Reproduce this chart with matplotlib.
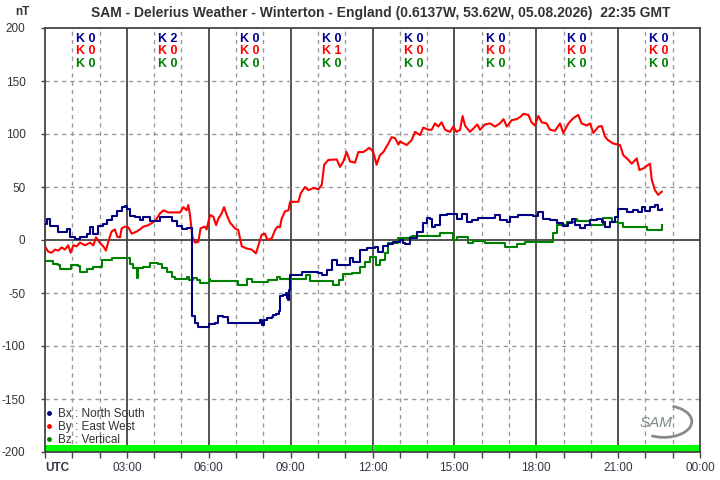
import matplotlib
matplotlib.use("Agg")
import matplotlib.pyplot as plt
from matplotlib.lines import Line2D
from matplotlib.patches import Arc

plt.rcParams['font.family'] = ['Liberation Sans', 'DejaVu Sans']

# ---------------- data ----------------
bx_hours = [0.00, 0.06, 0.18, 0.37, 0.49, 0.73, 0.79, 0.92, 1.10, 1.28, 1.53, 1.65, 1.77, 1.95, 2.14,
            2.26, 2.44, 2.63, 2.81, 2.93, 3.02, 3.11, 3.30, 3.48, 3.60, 3.85, 4.03, 4.21, 4.46, 4.64,
            4.82, 5.01, 5.19, 5.37, 5.40, 5.50, 5.62, 5.92, 6.02, 6.23, 6.35, 6.53, 6.72, 7.88, 7.94,
            8.02, 8.12, 8.31, 8.37, 8.46, 8.59, 8.61, 8.73, 8.83, 8.86, 8.92, 8.95, 8.98, 9.16, 9.40,
            9.89, 10.01, 10.14, 10.32, 10.50, 10.69, 11.05, 11.18, 11.30, 11.54, 11.79, 12.09, 12.21,
            12.40, 12.58, 12.76, 13.01, 13.13, 13.19, 13.37, 13.62, 13.86, 13.99, 14.11, 14.17, 14.29,
            14.47, 14.72, 14.96, 15.08, 15.27, 15.45, 15.63, 15.88, 16.18, 16.49, 16.67, 16.92, 17.04,
            17.34, 17.65, 17.89, 18.08, 18.26, 18.50, 18.75, 18.99, 19.18, 19.30, 19.42, 19.60, 19.79,
            19.97, 20.21, 20.40, 20.52, 20.70, 20.89, 21.01, 21.19, 21.31, 21.56, 21.74, 21.86, 21.99,
            22.17, 22.35, 22.47, 22.60]
bx_values = [15, 20, 13, 13, 8, 8, 10, 3, 1, 3, 6, 12, 6, 13, 15,
             19, 23, 27, 31, 32, 29, 23, 22, 19, 22, 18, 18, 22, 22, 18,
             13, 10, 11, 10, -72, -78, -82, -82, -79, -78, -72, -73, -78, -75, -80,
             -75, -74, -73, -71, -70, -67, -53, -52, -50, -55, -57, -47, -33, -33, -30,
             -30, -31, -33, -28, -19, -24, -24, -17, -21, -9, -8, -7, -11,
             -6, -4, -2, 0, -3, -4, 2, 8, 16, 21, 20, 12, 14,
             24, 25, 25, 20, 25, 17, 19, 21, 21, 24, 19, 17, 22,
             24, 24, 23, 26, 20, 19, 16, 13, 16, 20, 14, 11, 14,
             19, 20, 17, 12, 17, 22, 29, 29, 26, 28, 26, 31, 27,
             31, 33, 28, 29]

by_hours = [0.00, 0.12, 0.24, 0.37, 0.49, 0.61, 0.73, 0.85, 0.94, 1.04, 1.16, 1.28, 1.47, 1.65, 1.77,
            1.87, 2.02, 2.14, 2.23, 2.32, 2.44, 2.56, 2.65, 2.75, 2.81, 2.93, 3.05, 3.18, 3.36, 3.48,
            3.60, 3.79, 3.97, 4.09, 4.21, 4.34, 4.52, 4.95, 5.07, 5.19, 5.25, 5.31, 5.40, 5.50, 5.62,
            5.70, 5.86, 5.92, 6.05, 6.17, 6.27, 6.35, 6.47, 6.56, 6.66, 6.78, 6.96, 7.08, 7.21, 7.39,
            7.57, 7.73, 7.82, 7.94, 8.06, 8.15, 8.31, 8.43, 8.52, 8.61, 8.67, 8.79, 8.92, 8.98, 9.28,
            9.37, 9.53, 9.65, 9.83, 10.02, 10.14, 10.23, 10.38, 10.69, 10.81, 10.93, 11.05, 11.18, 11.36,
            11.48, 11.67, 11.89, 12.03, 12.15, 12.27, 12.40, 12.58, 12.70, 12.83, 12.95, 13.01, 13.25,
            13.43, 13.56, 13.74, 13.86, 14.05, 14.17, 14.29, 14.41, 14.53, 14.66, 14.84, 14.96, 15.08,
            15.21, 15.30, 15.39, 15.57, 15.69, 15.84, 15.94, 16.12, 16.31, 16.49, 16.67, 16.80, 16.92,
            17.10, 17.28, 17.41, 17.53, 17.71, 17.83, 17.95, 18.08, 18.20, 18.38, 18.50, 18.69, 18.87,
            18.99, 19.18, 19.36, 19.54, 19.66, 19.85, 19.97, 20.09, 20.28, 20.40, 20.52, 20.64, 20.82,
            21.07, 21.19, 21.38, 21.50, 21.68, 21.78, 21.93, 22.05, 22.17, 22.23, 22.35, 22.47, 22.53,
            22.60]
by_values = [-6, -11, -12, -9, -10, -7, -9, -5, -12, -5, -6, -2.5, -5, -2.5, -5,
             2.5, -3, -6, -10, -1.6, 8, 10, 3, 2.5, 11, 12.6, 12, 6, 8, 10,
             12.6, 14, 17, 20, 25, 28, 26, 26, 31, 28, 33, 24, 3, -2.5, -1.6,
             11, 12.6, 10, 23.6, 22, 14, 20, 25, 31, 23.6, 16.4, 11, 9.4, -6, -8,
             -9, -12.6, -5, 5, 6, 0, 1.6, 9.4, 12.6, 12, 20, 27, 28, 36, 36,
             44, 50, 47, 49, 48, 52, 71, 75.5, 76, 69, 74, 83, 74, 73,
             83, 83, 87, 83, 71, 80, 83, 91, 97, 96, 90, 93, 89.6,
             94, 102, 99, 106, 104, 104, 110, 107, 111, 104, 102, 107, 102,
             104, 117, 108, 102, 105, 109, 104, 109, 110, 107, 110, 114, 107,
             113, 114, 116, 119, 118, 111, 108, 117, 111, 110, 104, 103, 110,
             101, 110, 115, 118, 110, 108, 110, 101, 107, 107.5, 97.5, 94, 91,
             89.6, 80, 75.5, 72, 77, 66, 67.6, 70, 72, 57, 47, 42.5, 44,
             45.6]

bz_hours = [0.00, 0.01, 0.24, 0.31, 0.49, 0.55, 0.85, 0.94, 1.22, 1.28, 1.53, 1.77, 2.08, 2.44, 2.99,
            3.11, 3.24, 3.36, 3.42, 3.60, 3.85, 4.15, 4.28, 4.46, 4.64, 4.76, 5.19, 5.29, 5.44, 5.56,
            5.68, 6.02, 6.05, 7.08, 7.39, 7.57, 8.18, 8.37, 8.49, 8.61, 9.56, 9.71, 10.57, 10.79, 10.93,
            11.24, 11.54, 11.73, 11.91, 12.13, 12.27, 12.46, 12.58, 12.95, 13.37, 13.44, 14.47, 14.96,
            15.08, 15.51, 15.69, 16.12, 16.86, 17.28, 17.59, 18.63, 18.75, 19.11, 19.42, 19.48, 19.97,
            20.46, 20.77, 21.01, 21.19, 22.05, 22.60]
bz_values = [10, -20, -20, -22.6, -23.6, -27, -27.7, -23.6, -24.5, -30, -27.7, -25, -19, -17.3, -17.3,
             -22.6, -26.7, -36, -26.7, -25, -22, -22.6, -26.7, -30, -35, -37, -35, -38, -36, -38,
             -40.5, -37, -39, -42.5, -37, -40, -38, -37.7, -34.6, -37, -33, -39, -42.5, -37.7, -32,
             -31, -25, -20.4, -16.4, -23.6, -19, -12.6, -3, 2.2, 3.1, 4, 6.3, 0,
             3.1, -3, -1, -3, -6.3, -3.8, -1.6, 6.3, 14, 17.3, 20, 17.5, 14,
             20.4, 17.3, 16.4, 12.6, 9.4, 14]

k_hours = [1.5, 4.5, 7.5, 10.5, 13.5, 16.5, 19.5, 22.5]
k_bx = [0, 2, 0, 0, 0, 0, 0, 0]
k_by = [0, 0, 0, 1, 0, 0, 0, 0]
k_bz = [0, 0, 0, 0, 0, 0, 0, 0]

x_ticks = [0, 3, 6, 9, 12, 15, 18, 21, 24]
x_labels = ["UTC", "03:00", "06:00", "09:00", "12:00", "15:00", "18:00", "21:00", "00:00"]
y_ticks = [-200, -150, -100, -50, 0, 50, 100, 150, 200]

series_labels = ["Bx : North South", "By : East West", "Bz : Vertical"]
c_bx, c_by, c_bz = "#000080", "#ff0000", "#008000"

# ---------------- figure ----------------
fig = plt.figure(figsize=(7.2, 4.8), dpi=100)
ax = fig.add_axes([45 / 720, 28 / 480, 655 / 720, 424 / 480])
ax.set_xlim(0, 24)
ax.set_ylim(-200, 200)

grid_c = "#999999"
line_c = "#444444"
for h in range(1, 24):
    if h % 3:
        ax.axvline(h, color=grid_c, lw=1.0, ls=(0, (3, 3)), zorder=1)
    else:
        ax.axvline(h, color=line_c, lw=1.3, zorder=1)
for v in y_ticks:
    if v == 0:
        ax.axhline(0, color=line_c, lw=1.3, zorder=1)
    elif abs(v) != 200:
        ax.axhline(v, color=grid_c, lw=1.0, ls=(0, (3, 3)), zorder=1)

# green status bar at bottom
ax.fill_between([0, 11.97], -200, -193.5, color="#00ff00", lw=0, zorder=2)
ax.fill_between([12.03, 24], -200, -193.5, color="#00ff00", lw=0, zorder=2)

ax.plot(bz_hours, bz_values, color=c_bz, lw=1.5, drawstyle="steps-post", zorder=3)
ax.plot(by_hours, by_values, color=c_by, lw=1.5, zorder=4)
ax.plot(bx_hours, bx_values, color=c_bx, lw=1.5, drawstyle="steps-post", zorder=5)

# K indices
for h, a, b, c in zip(k_hours, k_bx, k_by, k_bz):
    ax.text(h, 189.5, f"K {a}", color="#000099", fontsize=9, fontweight="bold", ha="center", va="center", zorder=6)
    ax.text(h, 178.0, f"K {b}", color=c_by, fontsize=9, fontweight="bold", ha="center", va="center", zorder=6)
    ax.text(h, 166.0, f"K {c}", color=c_bz, fontsize=9, fontweight="bold", ha="center", va="center", zorder=6)

# axes styling
ax.set_xticks(x_ticks)
ax.set_xticklabels(x_labels)
ax.set_xticks(range(25), minor=True)
ax.set_yticks(y_ticks)
ax.set_yticklabels([str(v) for v in y_ticks])
ax.tick_params(axis="x", which="both", direction="out", length=4, width=1, color=line_c,
               labelsize=8.5, labelcolor="#333344", pad=3)
ax.tick_params(axis="y", direction="out", length=3, width=1, color=line_c,
               labelsize=8.5, labelcolor="#333333", pad=11)
first = ax.get_xticklabels()[0]
first.set_fontweight("bold")
first.set_horizontalalignment("left")
for s in ax.spines.values():
    s.set_color(line_c)
    s.set_linewidth(1.3)

# legend
handles = [Line2D([], [], color=c, marker="o", markersize=2.5, ls="none") for c in (c_bx, c_by, c_bz)]
leg = ax.legend(handles, series_labels, loc="lower left", bbox_to_anchor=(-0.006, 0.002),
                frameon=False, fontsize=8.5, handlelength=0.6, handletextpad=0.4,
                labelspacing=0.1, borderaxespad=0)
for t in leg.get_texts():
    t.set_color("#333333")

# logo
ax.text(0.933, 0.068, "SAM", transform=ax.transAxes, fontsize=11, fontstyle="italic",
        color="#7a8a8a", ha="center", va="center", zorder=6)
ax.add_patch(Arc((0.945, 0.072), 0.085, 0.075, theta1=-120, theta2=70, transform=ax.transAxes,
                 color="#8a8a8a", lw=2.0, zorder=6))

fig.text(381 / 720, 1 - 13 / 480,
         "SAM - Delerius Weather - Winterton - England (0.6137W, 53.62W, 05.08.2026)  22:35 GMT",
         ha="center", va="center", fontsize=10, fontweight="bold", color="#333333")
fig.text(22 / 720, 1 - 12 / 480, "nT", ha="center", va="center", fontsize=8.5,
         fontweight="bold", color="#333333")

fig.savefig("out.png", dpi=100)
